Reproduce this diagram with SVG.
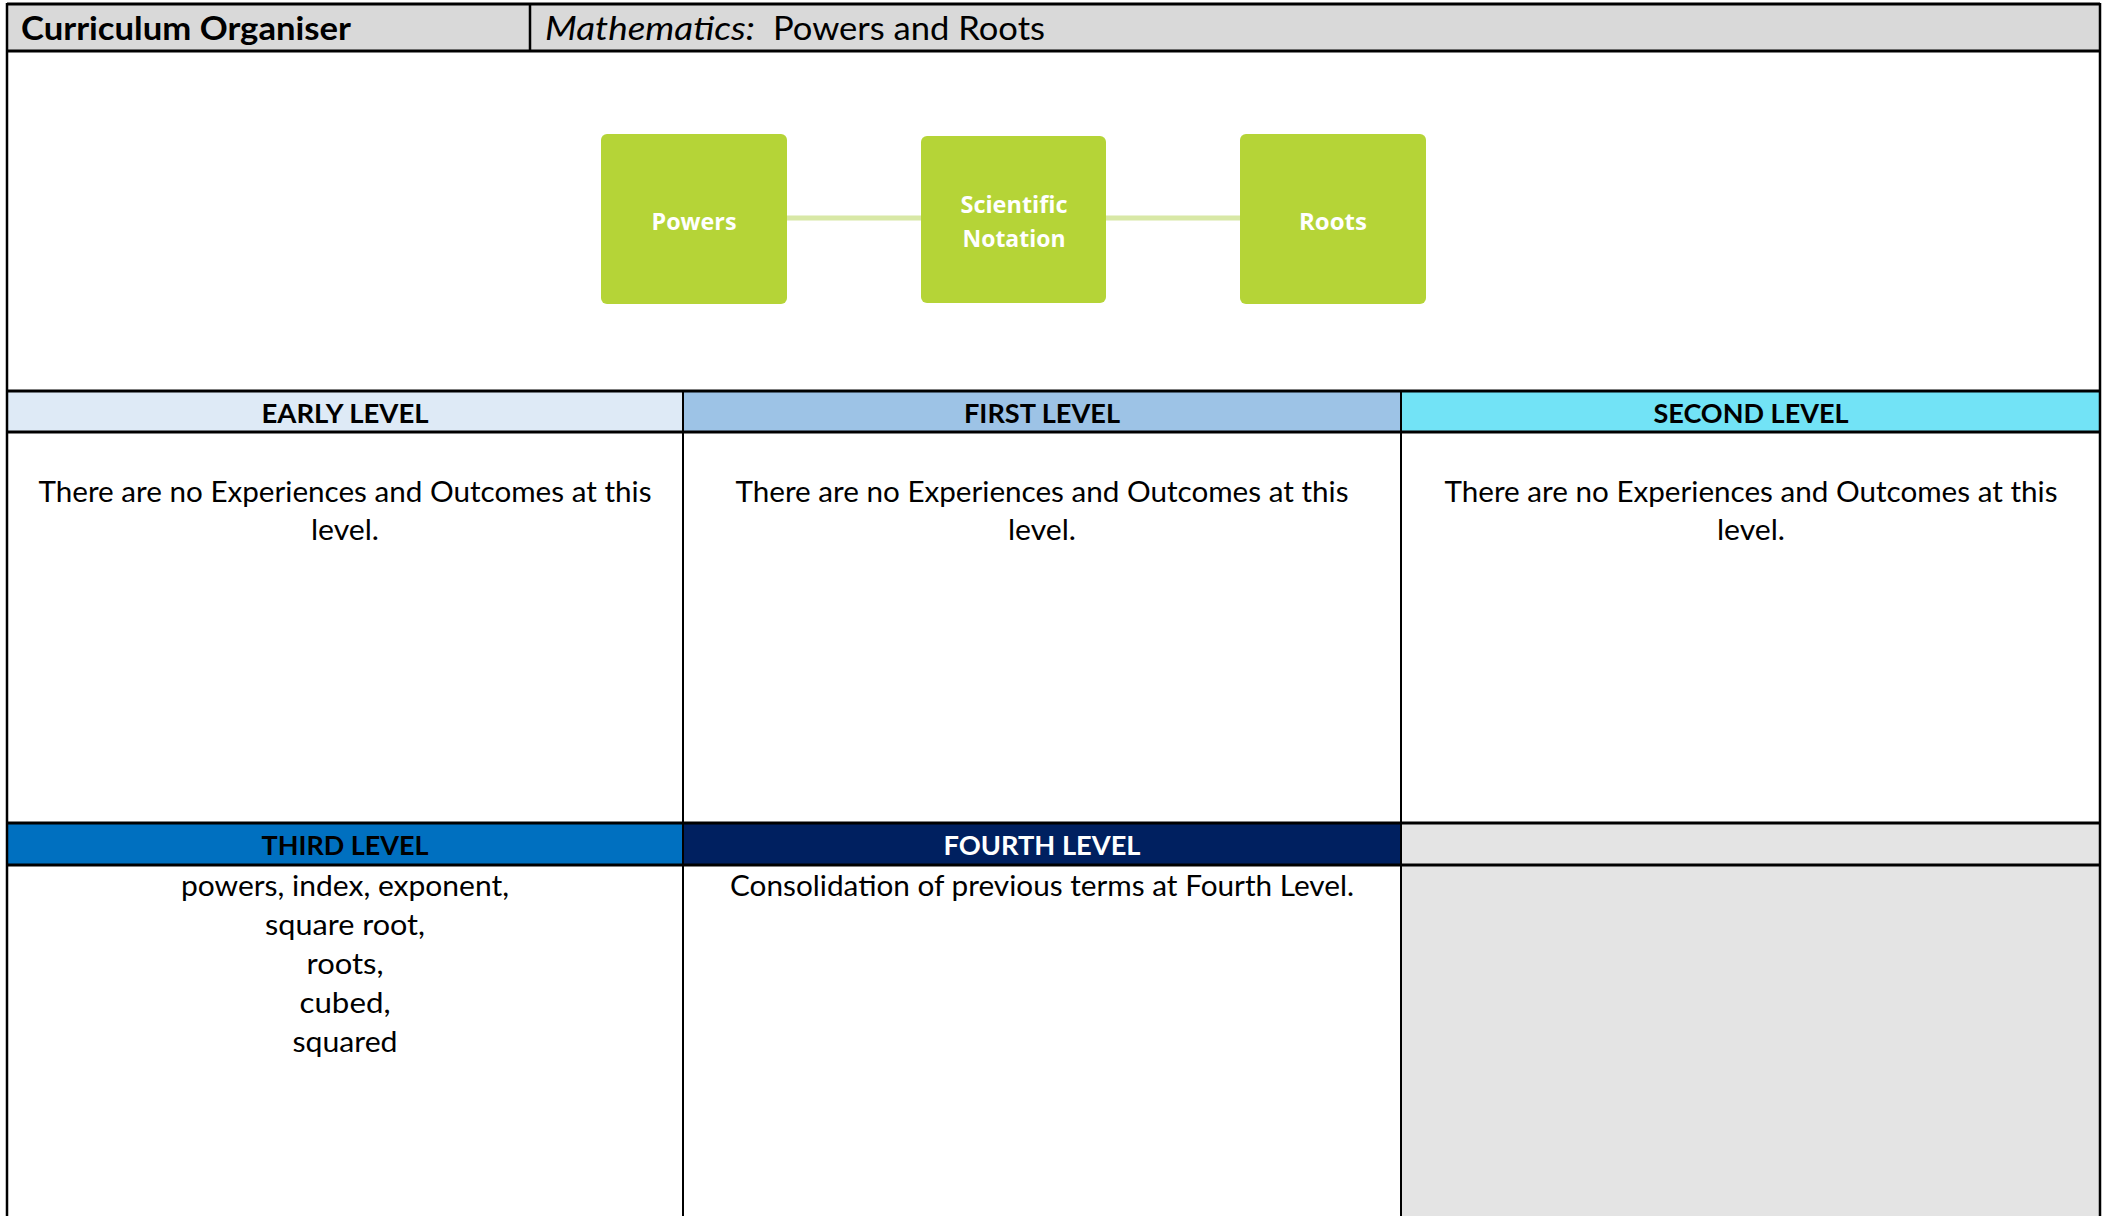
<svg xmlns="http://www.w3.org/2000/svg" width="2109" height="1216" viewBox="0 0 2109 1216">
  <style>
    .body { font-family: Lato, "Liberation Sans", sans-serif; font-size: 29px; fill: #000; }
    .lvl { font-family: Lato, "Liberation Sans", sans-serif; font-size: 27px; font-weight: bold; fill: #000; text-anchor: middle; }
    .mid { text-anchor: middle; }
    .node rect { fill: #b5d437; }
    .node text { font-family: "Open Sans", "Noto Sans", sans-serif; font-size: 24px; font-weight: bold; fill: #ffffff; text-anchor: middle; }
    .grid { stroke: #000; fill: none; }
  </style>

  <!-- page background -->
  <rect x="0" y="0" width="2109" height="1216" fill="#ffffff"/>

  <!-- title bar -->
  <rect x="7" y="4" width="2093" height="47" fill="#d9d9d9"/>
  <text x="21" y="40" font-family="Lato, 'Liberation Sans', sans-serif" font-size="32" font-weight="bold" textLength="330" lengthAdjust="spacingAndGlyphs">Curriculum Organiser</text>
  <text x="545" y="40" font-family="Lato, 'Liberation Sans', sans-serif" font-size="32" font-style="italic" textLength="210" lengthAdjust="spacingAndGlyphs">Mathematics:</text>
  <text x="773" y="40" font-family="Lato, 'Liberation Sans', sans-serif" font-size="32" textLength="272" lengthAdjust="spacingAndGlyphs">Powers and Roots</text>

  <!-- level headers, row 1 -->
  <rect x="7" y="391" width="676" height="41" fill="#deeaf6"/>
  <rect x="683" y="391" width="718" height="41" fill="#9dc3e6"/>
  <rect x="1401" y="391" width="699" height="41" fill="#72e3f6"/>
  <!-- level headers, row 2 -->
  <rect x="7" y="823" width="676" height="42" fill="#0070c0"/>
  <rect x="683" y="823" width="718" height="42" fill="#002060"/>
  <rect x="1401" y="823" width="699" height="393" fill="#e4e4e4"/>

  <!-- grid lines -->
  <g class="grid">
    <path d="M7 4 H2100 M7 51 H2100 M7 391 H2100 M7 432 H2100 M7 823 H2100 M7 865 H2100" stroke-width="3"/>
    <path d="M7 3 V1216 M2100 3 V1216 M530 4 V51" stroke-width="2.5"/>
    <path d="M683 391 V1216 M1401 391 V1216" stroke-width="2"/>
  </g>

  <!-- connectors between topic boxes -->
  <g id="connectors" stroke="#d8e8a6" stroke-width="5">
    <line x1="787" y1="218" x2="921" y2="218"/>
    <line x1="1106" y1="218" x2="1240" y2="218"/>
  </g>

  <!-- topic boxes -->
  <g id="node-powers" class="node">
    <rect x="601" y="134" width="186" height="170" rx="6"/>
    <text x="694" y="230" textLength="85" lengthAdjust="spacingAndGlyphs">Powers</text>
  </g>
  <g id="node-scientific-notation" class="node">
    <rect x="921" y="136" width="185" height="167" rx="6"/>
    <text x="1014" y="213" textLength="107" lengthAdjust="spacingAndGlyphs">Scientific</text>
    <text x="1014" y="247" textLength="103" lengthAdjust="spacingAndGlyphs">Notation</text>
  </g>
  <g id="node-roots" class="node">
    <rect x="1240" y="134" width="186" height="170" rx="6"/>
    <text x="1333" y="230" textLength="68" lengthAdjust="spacingAndGlyphs">Roots</text>
  </g>

  <!-- level titles -->
  <text class="lvl" x="345" y="423" textLength="167" lengthAdjust="spacingAndGlyphs">EARLY LEVEL</text>
  <text class="lvl" x="1042" y="423" textLength="156" lengthAdjust="spacingAndGlyphs">FIRST LEVEL</text>
  <text class="lvl" x="1751" y="423" textLength="195" lengthAdjust="spacingAndGlyphs">SECOND LEVEL</text>
  <text class="lvl" x="345" y="855" textLength="167" lengthAdjust="spacingAndGlyphs">THIRD LEVEL</text>
  <text class="lvl" x="1042" y="855" textLength="197" lengthAdjust="spacingAndGlyphs" style="fill:#ffffff">FOURTH LEVEL</text>

  <!-- level contents -->
  <g class="body mid">
    <text x="345" y="502" textLength="613" lengthAdjust="spacingAndGlyphs">There are no Experiences and Outcomes at this</text>
    <text x="345" y="540" textLength="68" lengthAdjust="spacingAndGlyphs">level.</text>
    <text x="1042" y="502" textLength="613" lengthAdjust="spacingAndGlyphs">There are no Experiences and Outcomes at this</text>
    <text x="1042" y="540" textLength="68" lengthAdjust="spacingAndGlyphs">level.</text>
    <text x="1751" y="502" textLength="613" lengthAdjust="spacingAndGlyphs">There are no Experiences and Outcomes at this</text>
    <text x="1751" y="540" textLength="68" lengthAdjust="spacingAndGlyphs">level.</text>

    <text x="345" y="896" textLength="328" lengthAdjust="spacingAndGlyphs">powers, index, exponent,</text>
    <text x="345" y="935" textLength="160" lengthAdjust="spacingAndGlyphs">square root,</text>
    <text x="345" y="974" textLength="77" lengthAdjust="spacingAndGlyphs">roots,</text>
    <text x="345" y="1013" textLength="91" lengthAdjust="spacingAndGlyphs">cubed,</text>
    <text x="345" y="1052" textLength="105" lengthAdjust="spacingAndGlyphs">squared</text>

    <text x="1042" y="896" textLength="624" lengthAdjust="spacingAndGlyphs">Consolidation of previous terms at Fourth Level.</text>
  </g>
</svg>
